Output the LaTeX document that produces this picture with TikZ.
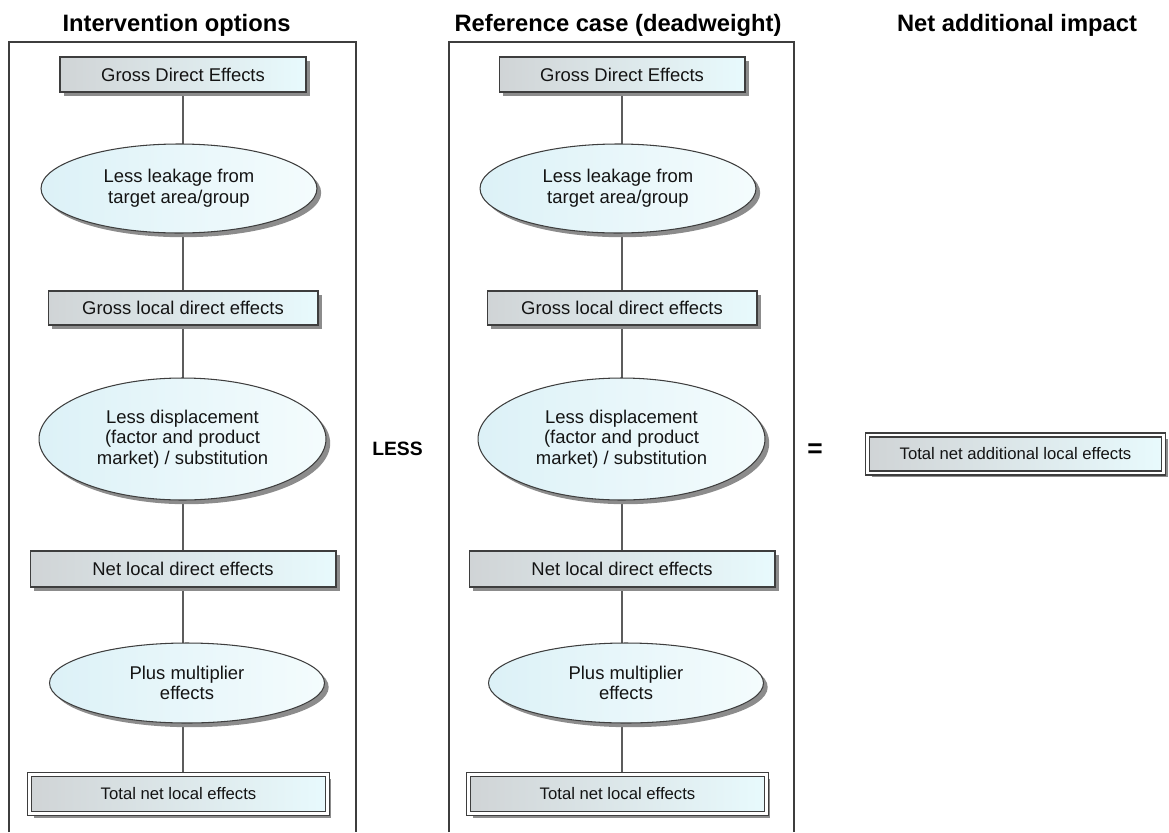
\documentclass[tikz,border=0pt]{standalone}
\usepackage{fontspec}
\setmainfont{Liberation Sans}
\usepackage{xcolor}
\definecolor{frameGrey}{RGB}{62,62,62}
\definecolor{linkGrey}{RGB}{92,92,92}
\definecolor{boxLeft}{RGB}{208,212,214}
\definecolor{boxRight}{RGB}{232,250,253}
\definecolor{ovalLeft}{RGB}{220,241,247}
\definecolor{ovalRight}{RGB}{244,252,253}
\definecolor{shadowGrey}{RGB}{140,140,140}
\definecolor{inkBlack}{RGB}{20,20,20}
\usepackage{tikz}
\usetikzlibrary{shapes.geometric,shadows,backgrounds}

\tikzset{
  coltitle/.style={anchor=base, text=black, font=\bfseries\fontsize{13.5}{16}\selectfont},
  colframe/.style={draw=frameGrey, line width=0.8pt},
  link/.style={draw=linkGrey, line width=0.7pt},
  effectbox/.style={draw=frameGrey, line width=0.6pt, left color=boxLeft, right color=boxRight,
    inner sep=0pt, text=inkBlack, font=\fontsize{10.5}{12}\selectfont,
    drop shadow={shadow xshift=2.4pt, shadow yshift=-2.4pt, fill=shadowGrey, opacity=1}},
  totalbox/.style={effectbox, line width=0.75pt, double=white, double distance=1.5pt,
    font=\fontsize{9.5}{11}\selectfont},
  effectoval/.style={ellipse, draw=frameGrey, line width=0.6pt, left color=ovalLeft, right color=ovalRight,
    inner sep=0pt, align=center, text=inkBlack, font=\fontsize{10.5}{11.8}\selectfont,
    drop shadow={shadow xshift=2.4pt, shadow yshift=-2.4pt, fill=shadowGrey, opacity=1}}
}

\begin{document}
\begin{tikzpicture}[x=0.02cm, y=-0.02cm]
  \useasboundingbox (0,0) rectangle (1169,832);

  % column headings
  \node[coltitle] (titleInt) at (176.5,31.5) {Intervention options};
  \node[coltitle] (titleRef) at (618,31.5) {Reference case (deadweight)};
  \node[coltitle] (titleNet) at (1017,31.5) {Net additional impact};

  % open frames round the two columns
  \draw[colframe] (9,832) |- (356,42) -- (356,832);
  \draw[colframe] (449,832) |- (794,42) -- (794,832);

  % the same chain of effects in both columns
  \foreach \col/\dx in {int/0, ref/439} {
    \node[effectbox, minimum width=4.92cm, minimum height=0.7cm] (\col-gross) at (183+\dx,74.5) {Gross Direct Effects};
    \node[effectoval, minimum width=5.52cm, minimum height=1.78cm] (\col-leak) at (179+\dx,188.5) {Less leakage from\\target area/group};
    \node[effectbox, minimum width=5.4cm, minimum height=0.68cm] (\col-glocal) at (183+\dx,308) {Gross local direct effects};
    \node[effectoval, minimum width=5.74cm, minimum height=2.44cm] (\col-displ) at (182.5+\dx,439) {Less displacement\\(factor and product\\market) / substitution};
    \node[effectbox, minimum width=6.12cm, minimum height=0.72cm] (\col-netlocal) at (183+\dx,569) {Net local direct effects};
    \node[effectoval, minimum width=5.5cm, minimum height=1.6cm] (\col-multi) at (187+\dx,683) {Plus multiplier\\effects};
    \node[totalbox, minimum width=5.95cm, minimum height=0.78cm] (\col-total) at (178.5+\dx,794) {Total net local effects};

    \begin{scope}[on background layer]
      \draw[link] (\col-gross) -- (\col-gross |- \col-leak);
      \draw[link] (\col-gross |- \col-leak) -- (\col-glocal);
      \draw[link] (\col-glocal) -- (\col-glocal |- \col-displ);
      \draw[link] (\col-glocal |- \col-displ) -- (\col-netlocal);
      \draw[link] (\col-netlocal) -- (\col-netlocal |- \col-multi);
      \draw[link] (\col-netlocal |- \col-multi) -- (\col-netlocal |- \col-total);
    \end{scope}
  }

  % operators and result
  \node[font=\bfseries\fontsize{11}{13}\selectfont] (less) at (397.5,449) {LESS};
  \node[font=\bfseries\fontsize{15}{17}\selectfont] (equals) at (815,451) {=};
  \node[totalbox, minimum width=5.93cm, minimum height=0.76cm] (netTotal) at (1015.5,454) {Total net additional local effects};
\end{tikzpicture}
\end{document}
